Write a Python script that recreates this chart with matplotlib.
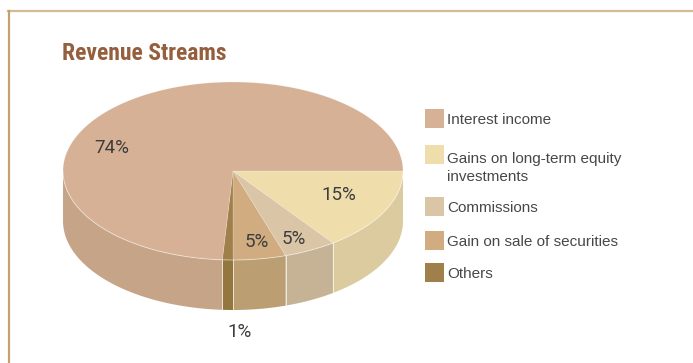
import numpy as np
import matplotlib
matplotlib.use("Agg")
import matplotlib.pyplot as plt
from matplotlib.patches import Polygon, Rectangle
from matplotlib.lines import Line2D

# revenue mix, in legend order
categories = ["Interest income", "Gains on long-term equity\ninvestments", "Commissions",
              "Gain on sale of securities", "Others"]
shares = [74, 15, 5, 5, 1]
pct_labels = ["74%", "15%", "5%", "5%", "1%"]

# slices are laid out clockwise from 3 o'clock in this order
draw_order = [1, 2, 3, 4, 0]

top_colors = ["#d6b195", "#f0ddac", "#dac6a7", "#d0ac80", "#a0804a"]
side_colors = ["#c6a488", "#dccb9f", "#c6b396", "#bb9f73", "#93773f"]

# label anchors (pixels)
label_pos = [(112, 148), (339, 195), (294, 238.5), (257, 242), (239.5, 332)]

W, H = 693, 363
fig = plt.figure(figsize=(W / 100, H / 100), dpi=100)
ax = fig.add_axes([0, 0, 1, 1])
ax.set_xlim(0, W)
ax.set_ylim(H, 0)
ax.axis("off")

# frame
ax.add_line(Line2D([8, W], [10.5, 10.5], color="#d6b996", lw=1.6))
ax.add_line(Line2D([8.5, 8.5], [11, H], color="#c3a271", lw=1.6))

ax.text(62, 53, "Revenue Streams", fontsize=17, fontweight="semibold", color="#955f3d",
        family=["Roboto Condensed", "DejaVu Sans"],
        fontstretch="condensed", va="center", ha="left")

cx, cy, rx, ry, depth = 233, 171, 170, 89, 50


def arc(a0, a1, dy=0.0, n=120):
    t = np.radians(np.linspace(a0, a1, n))
    return np.column_stack([cx + rx * np.cos(t), cy + ry * np.sin(t) + dy])


# angle ranges from the shares
bounds = {}
start = 0.0
for i in draw_order:
    span = shares[i] / sum(shares) * 360.0
    bounds[i] = (start, start + span)
    start += span

# side walls (front half only)
for i in draw_order:
    a0, a1 = bounds[i]
    s0, s1 = max(a0, 0), min(a1, 180)
    if s1 <= s0:
        continue
    top = arc(s0, s1)
    bot = arc(s1, s0, dy=depth)
    ax.add_patch(Polygon(np.vstack([top, bot]), closed=True, facecolor=side_colors[i],
                         edgecolor="none", zorder=2))
    for a in (a0, a1):
        if 0 < a < 180:
            x = cx + rx * np.cos(np.radians(a))
            y = cy + ry * np.sin(np.radians(a))
            ax.add_line(Line2D([x, x], [y, y + depth], color="white", alpha=0.45,
                               lw=0.7, zorder=3))

# top faces
for i in draw_order:
    a0, a1 = bounds[i]
    pts = np.vstack([[cx, cy], arc(a0, a1)])
    ax.add_patch(Polygon(pts, closed=True, facecolor=top_colors[i],
                         edgecolor=(1, 1, 1, 0.25), lw=0.5, zorder=4))

rim = arc(0, 180)
ax.plot(rim[:, 0], rim[:, 1], color="white", alpha=0.35, lw=0.7, zorder=5)

for i, (x, y) in enumerate(label_pos):
    ax.text(x, y, pct_labels[i], fontsize=13.5, color="#3d3d3d", family="Roboto",
            ha="center", va="center", zorder=6)

# legend
row_y = [118.5, 154, 206.5, 240, 272]
for i, name in enumerate(categories):
    ax.add_patch(Rectangle((425, row_y[i] - 9.5), 19, 19, facecolor=top_colors[i],
                           edgecolor="none"))
    ty = row_y[i] + 1.5
    if "\n" in name:
        ty = row_y[i] + 14
    ax.text(447, ty, name, fontsize=11, color="#474747", family="Liberation Sans",
            ha="left", va="center", linespacing=1.45)

fig.savefig("out.png", dpi=100)
